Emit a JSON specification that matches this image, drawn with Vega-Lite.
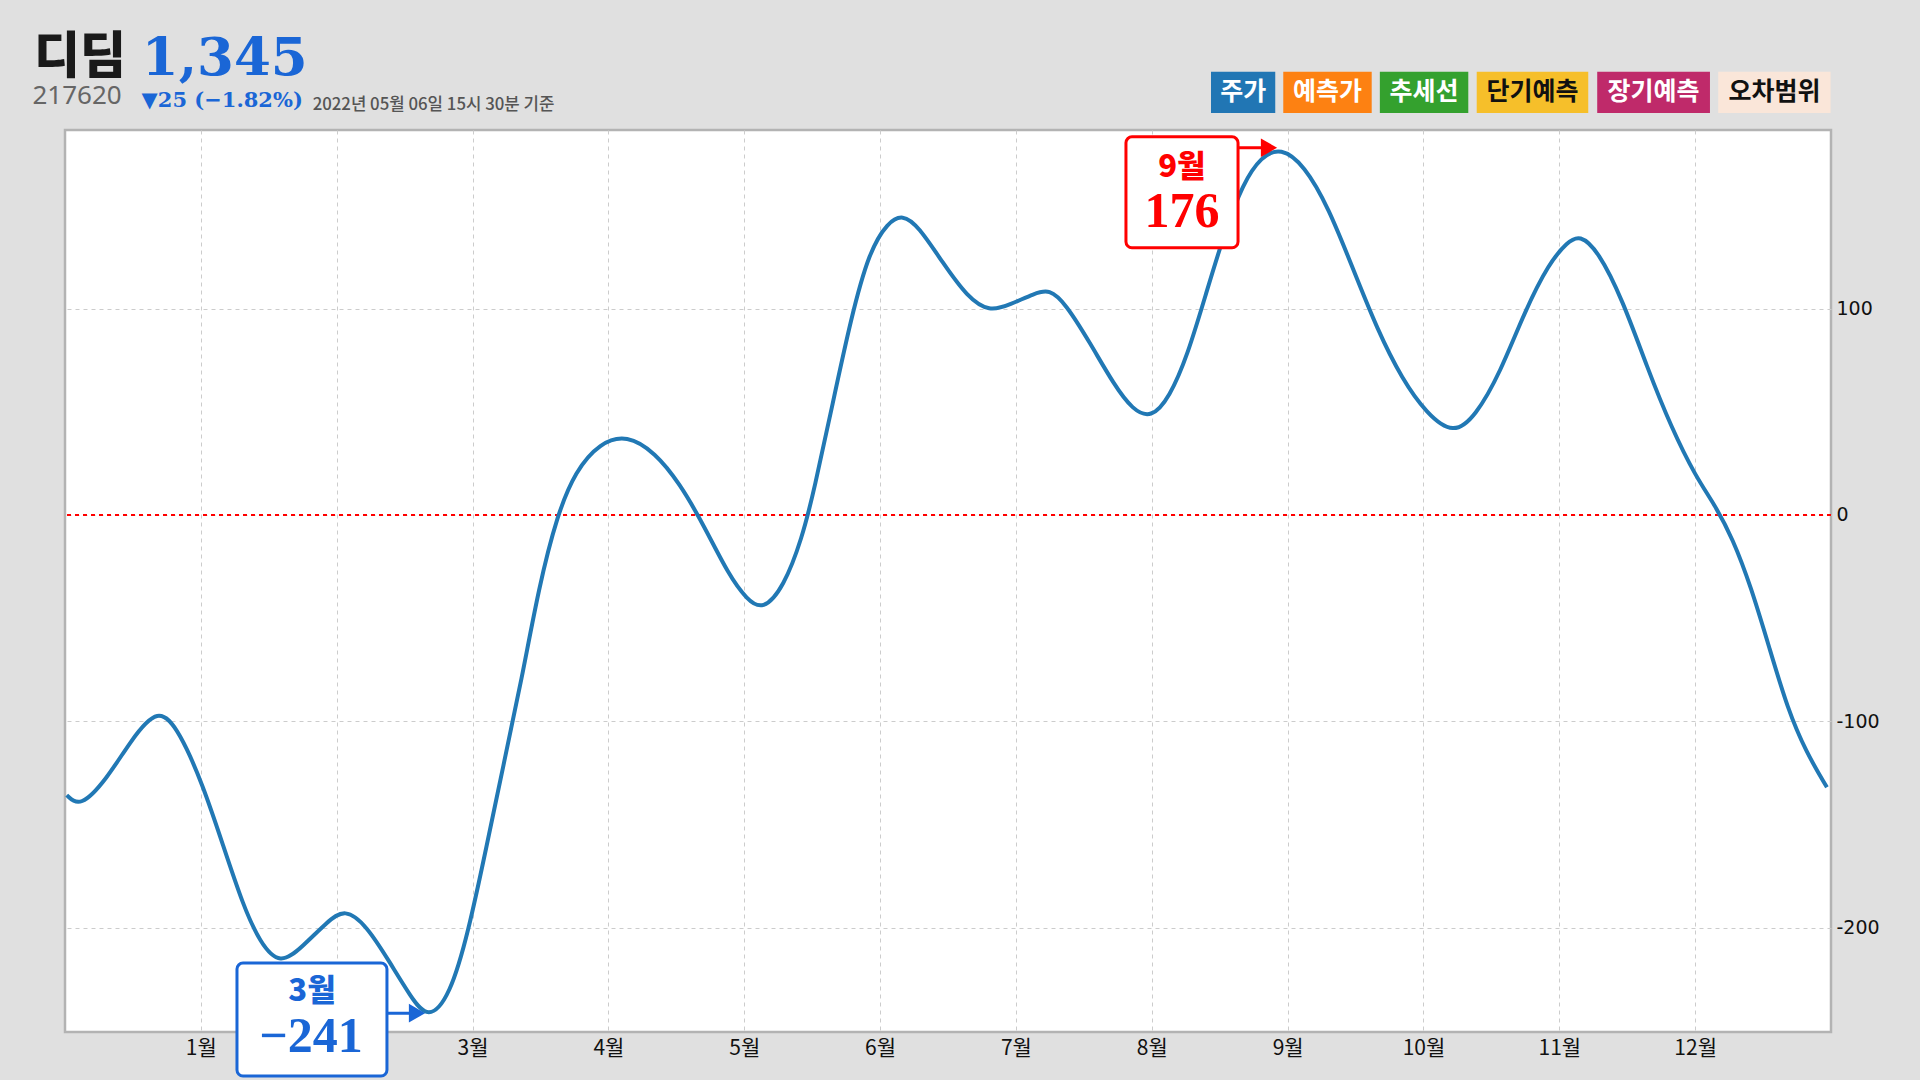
{
  "$schema": "https://vega.github.io/schema/vega-lite/v6.json",
  "autosize": {"type": "none"},
  "width": 1766,
  "height": 902,
  "padding": {"left": 65, "top": 130, "right": 89, "bottom": 48},
  "background": "#e0e0e0",
  "config": {
    "view": {"fill": "white", "stroke": "#b3b3b3", "strokeWidth": 2.5},
    "axisX": {"grid": true, "gridColor": "#cccccc", "gridDash": [4, 4], "gridWidth": 1, "ticks": false, "domain": false, "labelFont": "Noto Sans CJK KR", "labelFontSize": 21, "labelColor": "#111111", "labelPadding": 5, "labelFlush": false, "labelOverlap": false},
    "axisY": {"grid": true, "gridColor": "#cccccc", "gridDash": [4, 4], "gridWidth": 1, "ticks": false, "domain": false, "labelFont": "DejaVu Sans", "labelFontSize": 19, "labelColor": "#111111", "labelPadding": 5, "labelOverlap": false}
  },
  "datasets": {
    "price": [
      {"t": 0.013, "v": -135.8}, {"t": 0.11, "v": -142}, {"t": 0.307, "v": -128}, {"t": 0.478, "v": -110}, {"t": 0.687, "v": -92.3}, {"t": 0.847, "v": -105.4}, {"t": 1.018, "v": -131.3}, {"t": 1.165, "v": -160.4}, {"t": 1.312, "v": -189.4}, {"t": 1.435, "v": -207.2}, {"t": 1.583, "v": -218.4}, {"t": 1.754, "v": -208.8}, {"t": 1.926, "v": -197.5}, {"t": 2.061, "v": -190.5}, {"t": 2.221, "v": -199.1}, {"t": 2.392, "v": -216.9}, {"t": 2.54, "v": -233}, {"t": 2.674, "v": -245}, {"t": 2.834, "v": -233}, {"t": 2.969, "v": -202.3}, {"t": 3.104, "v": -160.4}, {"t": 3.226, "v": -121.6}, {"t": 3.362, "v": -79.7},
      {"t": 3.488, "v": -35}, {"t": 3.623, "v": 0}, {"t": 3.758, "v": 21.4}, {"t": 3.938, "v": 35}, {"t": 4.137, "v": 38.9}, {"t": 4.344, "v": 30.2}, {"t": 4.524, "v": 15.4}, {"t": 4.705, "v": -5.3}, {"t": 4.885, "v": -29}, {"t": 5.02, "v": -41}, {"t": 5.137, "v": -46.3}, {"t": 5.29, "v": -35}, {"t": 5.426, "v": -11.3}, {"t": 5.516, "v": 12.5}, {"t": 5.651, "v": 54}, {"t": 5.786, "v": 95.5}, {"t": 5.921, "v": 128}, {"t": 6.057, "v": 141.8}, {"t": 6.165, "v": 145.7}, {"t": 6.282, "v": 140}, {"t": 6.462, "v": 122.2}, {"t": 6.642, "v": 105.6}, {"t": 6.805, "v": 98.4}, {"t": 6.958, "v": 102}, {"t": 7.138, "v": 107.4}, {"t": 7.246, "v": 109.5}, {"t": 7.364, "v": 102.6}, {"t": 7.544, "v": 83.6}, {"t": 7.724, "v": 62.9}, {"t": 7.859, "v": 51}, {"t": 7.995, "v": 46.8}, {"t": 8.13, "v": 56.9}, {"t": 8.265, "v": 77.7}, {"t": 8.4, "v": 107.4}, {"t": 8.536, "v": 137}, {"t": 8.671, "v": 160.7}, {"t": 8.806, "v": 173.8}, {"t": 8.95, "v": 178.2}, {"t": 9.122, "v": 169.6}, {"t": 9.302, "v": 148.9}, {"t": 9.482, "v": 119.2}, {"t": 9.662, "v": 89.6}, {"t": 9.843, "v": 65.8}, {"t": 10.023, "v": 49.2}, {"t": 10.221, "v": 38.9}, {"t": 10.384, "v": 48}, {"t": 10.564, "v": 68.8}, {"t": 10.744, "v": 98.5}, {"t": 10.925, "v": 122.2}, {"t": 11.06, "v": 132.3}, {"t": 11.15, "v": 135.9}, {"t": 11.285, "v": 128.1}, {"t": 11.465, "v": 104.4}, {"t": 11.645, "v": 71.8}, {"t": 11.826, "v": 42.1}, {"t": 12.006, "v": 18.4}, {"t": 12.141, "v": 5.3}, {"t": 12.276, "v": -11.3}, {"t": 12.412, "v": -35}, {"t": 12.547, "v": -64.6}, {"t": 12.682, "v": -94.3}, {"t": 12.817, "v": -115}, {"t": 12.97, "v": -132}
    ],
    "legend": [
      {"label": "주가", "a": 8.436, "b": 8.909},
      {"label": "예측가", "a": 8.968, "b": 9.619},
      {"label": "추세선", "a": 9.679, "b": 10.33},
      {"label": "단기예측", "a": 10.392, "b": 11.213},
      {"label": "장기예측", "a": 11.279, "b": 12.109},
      {"label": "오차범위", "a": 12.17, "b": 12.997}
    ],
    "one": [{}]
  },
  "layer": [
    {
      "data": {"name": "one"},
      "mark": {"type": "rule", "color": "#ff0000", "strokeWidth": 2, "strokeDash": [4, 4]},
      "encoding": {"y": {"datum": 0, "type": "quantitative"}}
    },
    {
      "data": {"name": "price"},
      "mark": {"type": "line", "interpolate": "basis", "color": "#2178b4", "strokeWidth": 4},
      "encoding": {
        "x": {"field": "t", "type": "quantitative", "scale": {"domain": [0, 13], "nice": false, "zero": false},
              "axis": {"title": null, "orient": "bottom", "values": [1, 2, 3, 4, 5, 6, 7, 8, 9, 10, 11, 12], "labelExpr": "datum.value == 2 ? '' : datum.value + '월'"}},
        "y": {"field": "v", "type": "quantitative", "scale": {"domain": [-250.6, 186.6], "nice": false, "zero": false},
              "axis": {"title": null, "orient": "right", "values": [-200, -100, 0, 100], "labelExpr": "'' + datum.value"}}
      }
    },
    {
      "data": {"name": "one"},
      "mark": {"type": "rule", "color": "#1a66d6", "strokeWidth": 3},
      "encoding": {"x": {"datum": 2.37, "type": "quantitative"}, "x2": {"datum": 2.6}, "y": {"datum": -241.5, "type": "quantitative"}}
    },
    {
      "data": {"name": "one"},
      "mark": {"type": "point", "shape": "triangle-right", "filled": true, "size": 350, "color": "#1a66d6", "opacity": 1},
      "encoding": {"x": {"datum": 2.591, "type": "quantitative"}, "y": {"datum": -241.5, "type": "quantitative"}}
    },
    {
      "data": {"name": "one"},
      "mark": {"type": "rect", "fill": "white", "stroke": "#1a66d6", "strokeWidth": 3, "cornerRadius": 6},
      "encoding": {"x": {"datum": 1.266, "type": "quantitative"}, "x2": {"datum": 2.37}, "y": {"datum": -217.2, "type": "quantitative"}, "y2": {"datum": -271.9}}
    },
    {
      "data": {"name": "one"},
      "mark": {"type": "text", "text": "3월", "font": "Noto Sans CJK KR", "fontWeight": 900, "fontSize": 31, "color": "#1a66d6", "align": "center", "baseline": "middle"},
      "encoding": {"x": {"datum": 1.818, "type": "quantitative"}, "y": {"datum": -231.2, "type": "quantitative"}}
    },
    {
      "data": {"name": "one"},
      "mark": {"type": "text", "text": "−241", "font": "Liberation Serif", "fontWeight": "bold", "fontSize": 50, "color": "#1a66d6", "align": "center", "baseline": "middle"},
      "encoding": {"x": {"datum": 1.811, "type": "quantitative"}, "y": {"datum": -253, "type": "quantitative"}}
    },
    {
      "data": {"name": "one"},
      "mark": {"type": "rule", "color": "#ff0000", "strokeWidth": 3},
      "encoding": {"x": {"datum": 8.635, "type": "quantitative"}, "x2": {"datum": 8.87}, "y": {"datum": 178, "type": "quantitative"}}
    },
    {
      "data": {"name": "one"},
      "mark": {"type": "point", "shape": "triangle-right", "filled": true, "size": 350, "color": "#ff0000", "opacity": 1},
      "encoding": {"x": {"datum": 8.863, "type": "quantitative"}, "y": {"datum": 178, "type": "quantitative"}}
    },
    {
      "data": {"name": "one"},
      "mark": {"type": "rect", "fill": "white", "stroke": "#ff0000", "strokeWidth": 3, "cornerRadius": 6},
      "encoding": {"x": {"datum": 7.81, "type": "quantitative"}, "x2": {"datum": 8.635}, "y": {"datum": 183.3, "type": "quantitative"}, "y2": {"datum": 129.5}}
    },
    {
      "data": {"name": "one"},
      "mark": {"type": "text", "text": "9월", "font": "Noto Sans CJK KR", "fontWeight": 900, "fontSize": 31, "color": "#ff0000", "align": "center", "baseline": "middle"},
      "encoding": {"x": {"datum": 8.222, "type": "quantitative"}, "y": {"datum": 168, "type": "quantitative"}}
    },
    {
      "data": {"name": "one"},
      "mark": {"type": "text", "text": "176", "font": "Liberation Serif", "fontWeight": "bold", "fontSize": 50, "color": "#ff0000", "align": "center", "baseline": "middle"},
      "encoding": {"x": {"datum": 8.222, "type": "quantitative"}, "y": {"datum": 147, "type": "quantitative"}}
    },
    {
      "data": {"name": "one"},
      "mark": {"type": "text", "text": "디딤", "font": "Noto Sans CJK KR", "fontWeight": 900, "fontSize": 50, "color": "#1a1a1a", "align": "left", "baseline": "alphabetic"},
      "encoding": {"x": {"datum": -0.228, "type": "quantitative"}, "y": {"datum": 214, "type": "quantitative"}}
    },
    {
      "data": {"name": "one"},
      "mark": {"type": "text", "text": "1,345", "font": "DejaVu Serif", "fontWeight": "bold", "fontSize": 53, "color": "#1a66d6", "align": "left", "baseline": "alphabetic"},
      "encoding": {"x": {"datum": 0.565, "type": "quantitative"}, "y": {"datum": 213.3, "type": "quantitative"}}
    },
    {
      "data": {"name": "one"},
      "mark": {"type": "text", "text": "217620", "font": "Noto Sans", "fontSize": 26, "color": "#666666", "align": "left", "baseline": "alphabetic"},
      "encoding": {"x": {"datum": -0.24, "type": "quantitative"}, "y": {"datum": 199.4, "type": "quantitative"}}
    },
    {
      "data": {"name": "one"},
      "mark": {"type": "text", "text": "▼25 (−1.82%)", "font": "DejaVu Serif", "fontWeight": "bold", "fontSize": 21, "color": "#1a66d6", "align": "left", "baseline": "alphabetic"},
      "encoding": {"x": {"datum": 0.564, "type": "quantitative"}, "y": {"datum": 197.8, "type": "quantitative"}}
    },
    {
      "data": {"name": "one"},
      "mark": {"type": "text", "text": "2022년 05월 06일 15시 30분 기준", "font": "Noto Sans CJK KR", "fontWeight": 500, "fontSize": 16.8, "color": "#555555", "align": "left", "baseline": "alphabetic"},
      "encoding": {"x": {"datum": 1.823, "type": "quantitative"}, "y": {"datum": 196.4, "type": "quantitative"}}
    },
    {
      "data": {"name": "legend"},
      "mark": {"type": "rect"},
      "encoding": {
        "x": {"field": "a", "type": "quantitative"},
        "x2": {"field": "b"},
        "y": {"datum": 214.8, "type": "quantitative"},
        "y2": {"datum": 194.8},
        "color": {"field": "label", "type": "nominal", "legend": null,
                  "scale": {"domain": ["주가", "예측가", "추세선", "단기예측", "장기예측", "오차범위"], "range": ["#2176b4", "#fd8112", "#34a12e", "#f6bf2a", "#bf2a6a", "#fae6d9"]}}
      }
    },
    {
      "data": {"name": "legend"},
      "transform": [{"calculate": "(datum.a + datum.b) / 2", "as": "mid"}],
      "mark": {"type": "text", "font": "Noto Sans CJK KR", "fontWeight": "bold", "fontSize": 25, "align": "center", "baseline": "middle"},
      "encoding": {
        "x": {"field": "mid", "type": "quantitative"},
        "y": {"datum": 204.8, "type": "quantitative"},
        "text": {"field": "label"},
        "color": {"condition": {"test": "datum.label === '단기예측' || datum.label === '오차범위'", "value": "#111111"}, "value": "#ffffff"}
      }
    }
  ]
}
